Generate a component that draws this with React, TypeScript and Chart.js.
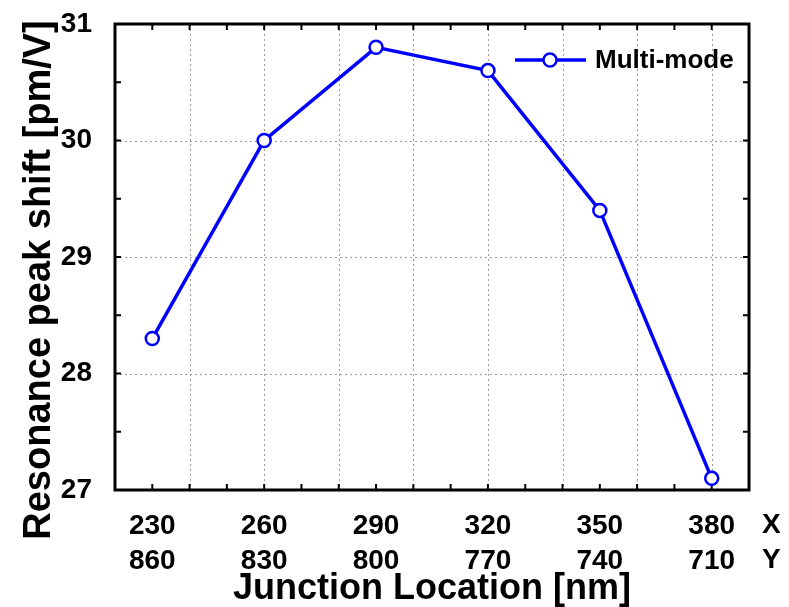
import React, { useEffect, useRef } from "react";
import { Chart, registerables } from "chart.js";

Chart.register(...registerables);

// ---- data ----
const junctionX = [230, 260, 290, 320, 350, 380];
const junctionY = [860, 830, 800, 770, 740, 710];
const peakShift = [28.3, 30.0, 30.8, 30.6, 29.4, 27.1];
const seriesLabel = "Multi-mode";
const rowLabels = ["X", "Y"];
const xTitle = "Junction Location [nm]";
const yTitle = "Resonance peak shift [pm/V]";

const FONT = "'Liberation Sans', Arial, Helvetica, sans-serif";
const BLUE = "#0000ff";

const decorPlugin = {
  id: "decor",
  beforeDatasetsDraw(chart: any) {
    const { ctx, chartArea: a, scales } = chart;
    const x = scales.x;
    const y = scales.y;
    ctx.save();
    // dotted grid
    ctx.strokeStyle = "#9a9a9a";
    ctx.lineWidth = 1;
    ctx.setLineDash([2, 3]);
    x.ticks.forEach((t: any) => {
      const v = Math.round(t.value);
      if (v > x.min && v < x.max && (v - x.min) % 20 === 0) {
        const px = Math.round(x.getPixelForValue(v)) + 0.5;
        ctx.beginPath();
        ctx.moveTo(px, a.top);
        ctx.lineTo(px, a.bottom);
        ctx.stroke();
      }
    });
    y.ticks.forEach((t: any) => {
      const v = t.value;
      if (Number.isInteger(v) && v > y.min && v < y.max) {
        const py = Math.round(y.getPixelForValue(v)) + 0.5;
        ctx.beginPath();
        ctx.moveTo(a.left, py);
        ctx.lineTo(a.right, py);
        ctx.stroke();
      }
    });
    ctx.setLineDash([]);
    // inner tick marks
    ctx.strokeStyle = "#000";
    ctx.lineWidth = 2;
    const TL = 6;
    x.ticks.forEach((t: any) => {
      const v = t.value;
      if (v > x.min && v < x.max) {
        const px = x.getPixelForValue(v);
        ctx.beginPath();
        ctx.moveTo(px, a.bottom);
        ctx.lineTo(px, a.bottom - TL);
        ctx.moveTo(px, a.top);
        ctx.lineTo(px, a.top + TL);
        ctx.stroke();
      }
    });
    y.ticks.forEach((t: any) => {
      const v = t.value;
      if (v > y.min && v < y.max) {
        const py = y.getPixelForValue(v);
        ctx.beginPath();
        ctx.moveTo(a.left, py);
        ctx.lineTo(a.left + TL, py);
        ctx.moveTo(a.right, py);
        ctx.lineTo(a.right - TL, py);
        ctx.stroke();
      }
    });
    // frame
    ctx.lineWidth = 3;
    ctx.strokeRect(a.left, a.top, a.right - a.left, a.bottom - a.top);
    ctx.restore();
  },
  afterDraw(chart: any) {
    const { ctx, chartArea: a } = chart;
    const ds = chart.data.datasets[0];
    ctx.save();
    ctx.fillStyle = "#000";
    // axis titles
    ctx.font = `bold 38px ${FONT}`;
    ctx.textAlign = "center";
    ctx.textBaseline = "alphabetic";
    ctx.save();
    ctx.translate(50, 280);
    ctx.rotate(-Math.PI / 2);
    ctx.fillText(yTitle, 0, 0);
    ctx.restore();
    ctx.font = `bold 36px ${FONT}`;
    ctx.fillText(xTitle, (a.left + a.right) / 2, 599);
    // row labels X / Y
    ctx.font = `bold 28px ${FONT}`;
    ctx.textAlign = "left";
    ctx.textBaseline = "middle";
    rowLabels.forEach((lbl, i) => {
      ctx.fillText(lbl, 762, a.bottom + 35 + i * 35);
    });
    // legend
    const ly = 60;
    ctx.strokeStyle = ds.borderColor;
    ctx.lineWidth = ds.borderWidth;
    ctx.beginPath();
    ctx.moveTo(515, ly);
    ctx.lineTo(586, ly);
    ctx.stroke();
    ctx.beginPath();
    ctx.arc(550, ly, ds.pointRadius, 0, Math.PI * 2);
    ctx.fillStyle = "#fff";
    ctx.fill();
    ctx.lineWidth = ds.pointBorderWidth;
    ctx.stroke();
    ctx.fillStyle = "#000";
    ctx.font = `bold 26px ${FONT}`;
    ctx.textAlign = "left";
    ctx.textBaseline = "middle";
    ctx.fillText(ds.label, 595, ly + 1);
    ctx.restore();
  },
};

export default function App() {
  const ref = useRef<HTMLCanvasElement | null>(null);
  useEffect(() => {
    if (!ref.current) return;
    const tickFont = { family: FONT, size: 28, weight: "bold" as const, lineHeight: 1.25 };
    const chart = new Chart(ref.current, {
      type: "line",
      data: {
        datasets: [
          {
            label: seriesLabel,
            data: junctionX.map((v, i) => ({ x: v, y: peakShift[i] })),
            borderColor: BLUE,
            backgroundColor: BLUE,
            borderWidth: 3.5,
            pointRadius: 6.5,
            pointBorderWidth: 2.5,
            pointBackgroundColor: "#fff",
            pointBorderColor: BLUE,
            tension: 0,
            clip: false as any,
          },
        ],
      },
      options: {
        animation: false,
        responsive: false,
        layout: { padding: { top: 24, right: 40, left: 0, bottom: 0 } },
        plugins: { legend: { display: false }, tooltip: { enabled: false } },
        scales: {
          x: {
            type: "linear",
            min: 220,
            max: 390,
            grid: { display: false },
            border: { display: false },
            ticks: {
              stepSize: 10,
              autoSkip: false,
              maxRotation: 0,
              minRotation: 0,
              padding: 10.5,
              color: "#000",
              font: tickFont,
              callback: (v: any) => {
                const i = junctionX.indexOf(Math.round(Number(v)));
                return i >= 0 ? [String(junctionX[i]), String(junctionY[i])] : "";
              },
            },
            afterFit: (s: any) => {
              s.height = 117;
              s.paddingLeft = 0;
              s.paddingRight = 0;
            },
          },
          y: {
            type: "linear",
            min: 27,
            max: 31,
            grid: { display: false },
            border: { display: false },
            ticks: {
              stepSize: 0.5,
              autoSkip: false,
              padding: 15,
              color: "#000",
              font: tickFont,
              callback: (v: any) => (Number.isInteger(Number(v)) ? String(v) : ""),
            },
            afterFit: (s: any) => {
              s.width = 115;
              s.paddingTop = 0;
              s.paddingBottom = 0;
            },
          },
        },
      },
      plugins: [decorPlugin],
    });
    return () => chart.destroy();
  }, []);
  return (
    <div style={{ position: "fixed", left: 0, top: 0, width: 789, height: 607, background: "#fff" }}>
      <canvas ref={ref} width={789} height={607} />
    </div>
  );
}
